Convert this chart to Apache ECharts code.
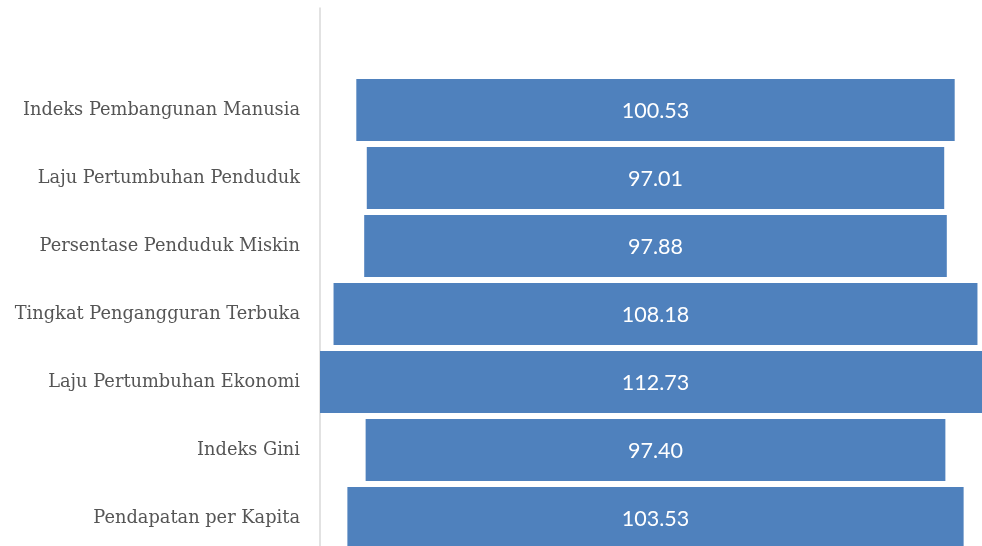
<!DOCTYPE html>
<html><head><meta charset="utf-8">
<script src="https://cdn.jsdelivr.net/npm/echarts@6/dist/echarts.min.js"></script>
<style>html,body{margin:0;padding:0;background:#fff;overflow:hidden;width:982px;height:546px}#c{width:991px;height:552px}</style>
</head><body><div id="c"></div>
<script>
const categories = ['', 'Indeks Pembangunan Manusia', 'Laju Pertumbuhan Penduduk', 'Persentase Penduduk Miskin', 'Tingkat Pengangguran Terbuka', 'Laju Pertumbuhan Ekonomi', 'Indeks Gini', 'Pendapatan per Kapita'];
const values = [null, 100.53, 97.01, 97.88, 108.18, 112.73, 97.40, 103.53];

const maxV = Math.max(...values.filter(v => v !== null));
const offsets = values.map(v => v === null ? '-' : (maxV - v) / 2);
const visible = values.map(v => v === null ? '-' : v);

const chart = echarts.init(document.getElementById('c'), null, {renderer: 'canvas'});
chart.setOption({
  animation: false,
  grid: {left: 320, right: 0, top: 8, bottom: 0, containLabel: false},
  xAxis: {type: 'value', min: 0, max: maxV, show: false},
  yAxis: {
    type: 'category', data: categories, inverse: true,
    axisLine: {show: true, lineStyle: {color: '#d9d9d9', width: 1.5}},
    axisTick: {show: false},
    axisLabel: {margin: 20, color: '#555555', fontFamily: 'DejaVu Serif', fontSize: 17.8, padding: [3, 0, 0, 0]}
  },
  series: [
    {type: 'bar', stack: 'f', data: offsets, itemStyle: {color: 'transparent'}, barCategoryGap: '9%', silent: true},
    {type: 'bar', stack: 'f', data: visible, itemStyle: {color: '#4f81bd'}, barCategoryGap: '9%',
     label: {show: true, position: 'inside', offset: [0, 1], color: '#ffffff', fontFamily: 'Lato', fontSize: 21.5,
       formatter: p => Number(p.value).toFixed(2)}}
  ]
});
</script></body></html>
